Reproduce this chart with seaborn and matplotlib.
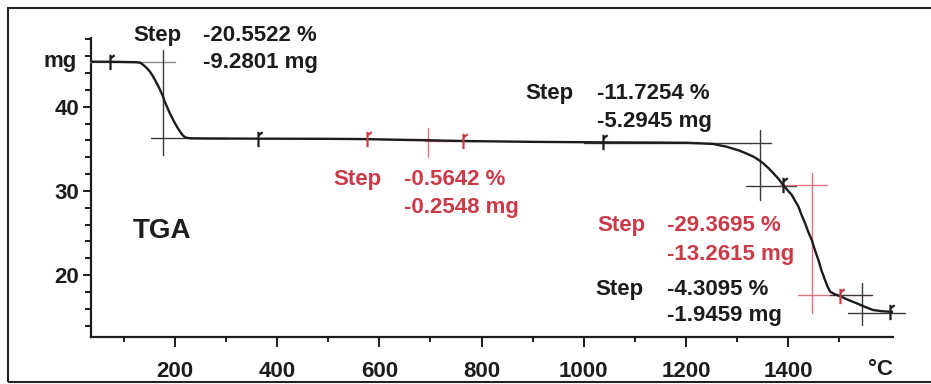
import matplotlib
matplotlib.use("Agg")
import matplotlib.pyplot as plt
from matplotlib.patches import Rectangle
from matplotlib.path import Path
from matplotlib.ticker import FixedLocator
import seaborn as sns
import pandas as pd

# ---------------- data ----------------
temperature_c = [35, 80, 110, 125, 132, 138, 145, 151, 156, 161, 166, 171, 176,
                 180, 185, 190, 195, 200, 205, 210, 215, 220, 226, 233,
                 260, 360, 500, 570, 650, 700, 765, 900, 1040, 1150, 1200,
                 1227, 1253, 1279, 1305, 1318, 1332, 1342, 1351, 1361, 1371,
                 1381, 1390, 1398, 1407, 1413, 1420, 1426, 1433, 1439, 1446,
                 1452, 1459, 1465, 1472, 1477, 1482, 1491, 1501, 1517, 1534,
                 1550, 1566, 1583, 1599, 1605]
mass_mg = [45.35, 45.33, 45.30, 45.28, 45.22, 44.96, 44.58, 44.16, 43.70,
           43.17, 42.58, 41.98, 41.30, 40.59, 39.90, 39.21, 38.60, 38.03,
           37.50, 37.03, 36.62, 36.36, 36.27, 36.24,
           36.22, 36.20, 36.18, 36.15, 36.05, 36.00, 35.92, 35.82, 35.76,
           35.73, 35.71,
           35.65, 35.57, 35.25, 34.77, 34.44, 34.06, 33.68, 33.27, 32.72,
           32.09, 31.42, 30.70, 30.12, 29.51, 28.85, 28.12, 27.15, 26.14,
           25.15, 24.16, 23.00, 21.78, 20.55, 19.40, 18.62, 18.02, 17.72,
           17.50, 17.05, 16.64, 16.22, 15.84, 15.70, 15.64, 15.62]

# step evaluation results
step_pct = ["-20.5522 %", "-0.5642 %", "-11.7254 %", "-29.3695 %", "-4.3095 %"]
step_mg = ["-9.2801 mg", "-0.2548 mg", "-5.2945 mg", "-13.2615 mg", "-1.9459 mg"]
step_is_red = [False, True, False, True, False]

# evaluation limit markers on the curve (temperature, mass, red?)
marker_t = [73, 362, 576, 764, 1037, 1390, 1501, 1600]
marker_m = [45.35, 36.21, 36.15, 35.92, 35.76, 30.70, 17.50, 15.63]
marker_red = [False, False, True, True, False, False, True, False]

# crosshair midpoints of the steps (temperature)
step_mid_t = [177, 696, 1345, 1446, 1544]

x_major = [200, 400, 600, 800, 1000, 1200, 1400]
x_minor = [100, 300, 500, 700, 900, 1100, 1300, 1500]
y_major = [20, 30, 40]
y_minor = [14, 16, 18, 22, 24, 26, 28, 32, 34, 36, 38, 42, 44, 46, 48]

# ---------------- styling ----------------
sns.set_theme(style="white")
plt.rcParams["font.family"] = ["Liberation Sans", "DejaVu Sans"]
BLACK = "#1c1c1c"
RED = "#cc3a48"
RED_LINE = "#e07482"
GRID_DARK = "#3a3a3a"
FS = 16

W, H = 931, 384
fig = plt.figure(figsize=(W / 100, H / 100), dpi=100)
ax = fig.add_axes([90.7 / W, 1 - 336.7 / H, (893 - 90.7) / W, (336.7 - 38) / H])

df = pd.DataFrame({"T": temperature_c, "m": mass_mg})
sns.lineplot(data=df, x="T", y="m", ax=ax, color=BLACK, linewidth=1.7,
             sort=False, zorder=5)

ax.set_xlim(35.1, 1605)
ax.set_ylim(12.67, 48.16)
ax.set_xlabel("")
ax.set_ylabel("")

for s in ["top", "right"]:
    ax.spines[s].set_visible(False)
for s in ["left", "bottom"]:
    ax.spines[s].set_linewidth(1.6)
    ax.spines[s].set_color(BLACK)

ax.xaxis.set_major_locator(FixedLocator(x_major))
ax.xaxis.set_minor_locator(FixedLocator(x_minor))
ax.yaxis.set_major_locator(FixedLocator(y_major))
ax.yaxis.set_minor_locator(FixedLocator(y_minor))
ax.set_xticklabels([str(v) for v in x_major])
ax.set_yticklabels([str(v) for v in y_major])
ax.tick_params(axis="x", which="major", direction="out", length=7, width=1.4,
               color=BLACK, pad=10.5, labelsize=FS, labelcolor=BLACK)
ax.tick_params(axis="x", which="minor", direction="out", length=3.5, width=1.4,
               color=BLACK)
ax.tick_params(axis="y", which="major", direction="out", length=5.5, width=1.4,
               color=BLACK, pad=3, labelsize=FS, labelcolor=BLACK)
ax.tick_params(axis="y", which="minor", direction="out", length=4, width=1.4,
               color=BLACK)
ax.tick_params(bottom=True, left=True, which="both")
for lab in ax.get_xticklabels() + ax.get_yticklabels():
    lab.set_fontweight("bold")

# unit labels at axis ends
ax.text(8.2, 44.72, "mg", ha="right", va="baseline", fontsize=FS,
        fontweight="bold", color=BLACK, clip_on=False)
ax.text(1581, 8.12, "°C", ha="center", va="baseline", fontsize=FS,
        fontweight="bold", color=BLACK, clip_on=False)

# ---------------- step crosshairs ----------------
def seg(x0, x1, y0, y1, color, lw=1.0, z=3):
    ax.plot([x0, x1], [y0, y1], color=color, lw=lw, zorder=z, clip_on=False)

# step 1
seg(33, 200, 45.35, 45.35, "#8a8a8a")
seg(154, 300, 36.24, 36.24, GRID_DARK)
seg(step_mid_t[0], step_mid_t[0], 46.74, 34.26, GRID_DARK)
# step 2 (red)
seg(step_mid_t[1], step_mid_t[1], 37.47, 34.02, RED_LINE)
seg(600, 700, 36.15, 36.15, RED_LINE)
seg(690, 790, 35.92, 35.92, RED_LINE)
# step 3
seg(1000, 1367, 35.72, 35.72, GRID_DARK)
seg(1318, 1416, 30.61, 30.61, GRID_DARK)
seg(step_mid_t[2], step_mid_t[2], 37.23, 28.91, GRID_DARK)
# step 4 (red)
seg(1384, 1475, 30.70, 30.70, RED_LINE)
seg(1419, 1563, 17.62, 17.62, RED_LINE)
seg(step_mid_t[3], step_mid_t[3], 32.09, 15.45, RED_LINE)
# step 5
seg(1481, 1563, 17.62, 17.62, GRID_DARK, lw=0.9)
seg(1517, 1628, 15.52, 15.52, GRID_DARK)
seg(step_mid_t[4], step_mid_t[4], 19.01, 14.06, GRID_DARK)

# ---------------- limit markers ----------------
flag = Path([(0, -1), (0, 1), (0, 0.55), (0.55, 0.95)],
            [Path.MOVETO, Path.LINETO, Path.MOVETO, Path.LINETO])
for t, m, r in zip(marker_t, marker_m, marker_red):
    ax.plot([t], [m], marker=flag, markersize=11, markeredgewidth=1.6,
            color=RED if r else BLACK, linestyle="none", zorder=6,
            clip_on=False)

# ---------------- step annotations ----------------
# (Step word x, value x, first baseline, second baseline)
ann_pos = [(117.8, 254.8, 47.81, 44.60),
           (509.1, 648.0, 30.70, 27.37),
           (884.8, 1025.7, 40.92, 37.59),
           (1025.7, 1162.6, 25.23, 21.78),
           (1021.8, 1162.6, 17.62, 14.53)]
for (xs, xv, y1, y2), p, mg_, red in zip(ann_pos, step_pct, step_mg, step_is_red):
    c = RED if red else BLACK
    kw = dict(fontsize=FS, fontweight="bold", color=c, va="baseline",
              ha="left", clip_on=False, zorder=7)
    ax.text(xs, y1, "Step", **kw)
    ax.text(xv, y1, p, **kw)
    ax.text(xv, y2, mg_, **kw)

ax.text(117.8, 24.40, "TGA", fontsize=20, fontweight="bold", color=BLACK,
        va="baseline", ha="left")

# outer frame
fig.patches.append(Rectangle((8 / W, 1 - 382 / H), (940 - 8) / W, (382 - 8) / H,
                             transform=fig.transFigure, fill=False,
                             ec="#222222", lw=1.5))

fig.savefig("out.png", dpi=100)
